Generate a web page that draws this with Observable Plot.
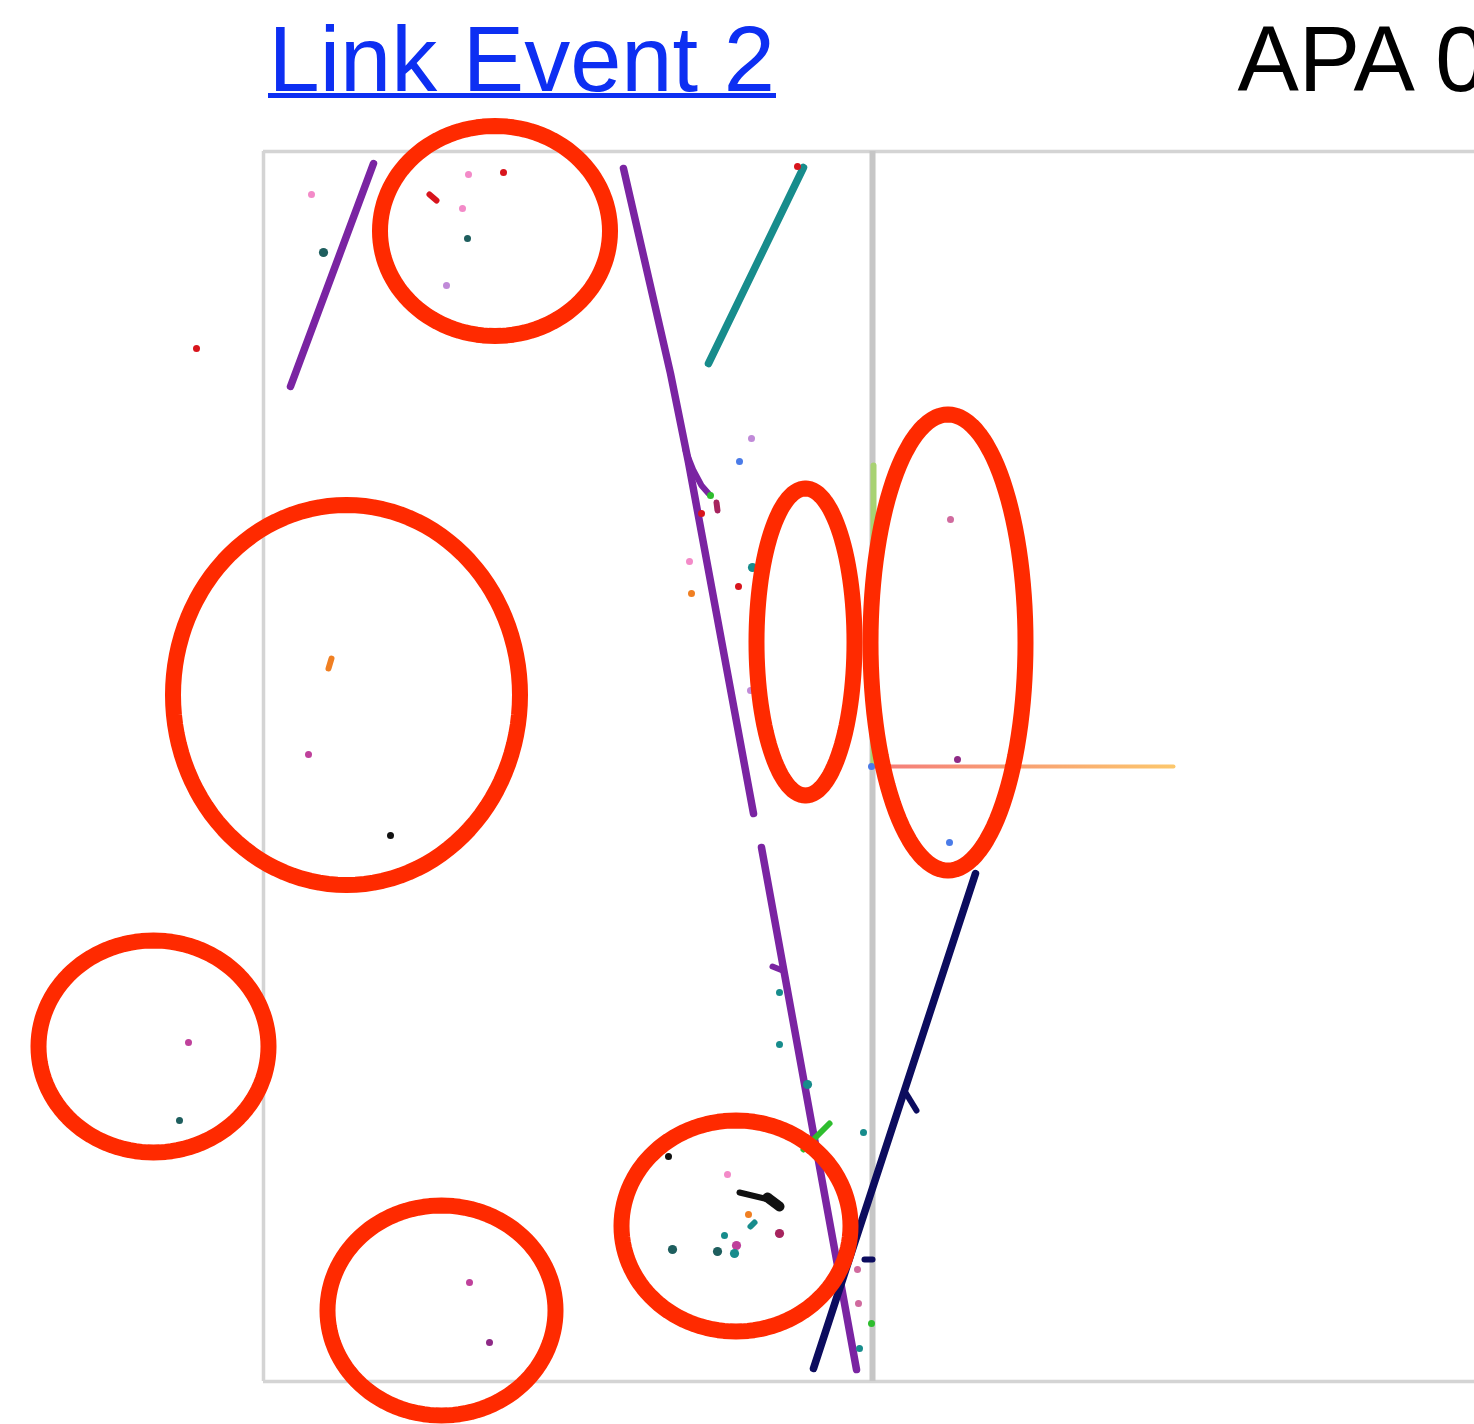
<!DOCTYPE html>
<html><head><meta charset="utf-8">
<script src="https://cdn.jsdelivr.net/npm/d3@7"></script>
<script src="https://cdn.jsdelivr.net/npm/@observablehq/plot@0.6"></script>
<style>html,body{margin:0;padding:0;background:#fff;overflow:hidden}svg{display:block}</style>
</head><body><div id="chart"></div>
<script>
// ---- data ----
const titleText = "Link Event 2";
const sideTitle = "APA 0";
const wireDomain = [0, 1474];
const tickDomain = [0, 1424];
const apaWireEdges = [263, 872, 1474];
const apaTickEdges = [151, 1381];

const hitKinds  = ["k-purple","k-teal","k-navy","k-pink","k-rose","k-red","k-darkteal","k-lilac","k-blue","k-orange","k-maroon","k-magenta","k-plum","k-black","k-green","k-lightgreen"];
const hitColors = ["#7a24a2","#178c8c","#0c0c5e","#f38ac8","#d06a9e","#d8141c","#1e5e5e","#c08ad8","#4a7be8","#f07f22","#a6245e","#bf419b","#8e2a86","#111111","#2ebd2e","#a8d272"];

// long tracks: [id, kind, points]
const tracks = [
  ["A", "k-purple", [[373,163],[290,386]]],
  ["B1","k-purple", [[623,168],[670,373],[688,462],[753,813]]],
  ["B2","k-purple", [[761,847],[807,1100],[856,1369]]],
  ["C", "k-teal",   [[803,167],[708,363]]],
  ["D", "k-navy",   [[975,873],[813,1368]]]
];
// short track pieces / blobs
const stubs = [
  ["b1","k-purple",[[685,450],[693,470],[701,485],[708,493]]],
  ["b2","k-purple",[[772,966],[782,970]]],
  ["b3","k-navy",  [[905,1092],[916,1110]]],
  ["b4","k-red",   [[429,194],[436,200]]],
  ["b5","k-orange",[[331,658],[328,668]]],
  ["b6","k-teal",  [[750,1226],[754,1222]]],
  ["b7","k-maroon",[[716,502],[717,510]]],
  ["b8","k-navy",  [[864,1259],[872,1259]]],
  ["b9","k-green", [[803,1149],[829,1123]]],
  ["b10","k-black",[[739,1192],[768,1199],[779,1205]]],
  ["b11","k-lightgreen",[[873,465],[873,763]]]
];
const arrowHead = [["h1","k-black",[[767,1197],[779,1206]]]];
// single hits: [wire, tick, kind]
const hits = [
  [311,194,"k-pink"],[468,174,"k-pink"],[503,172,"k-red"],[462,208,"k-pink"],
  [467,238,"k-darkteal"],[446,285,"k-lilac"],[196,348,"k-red"],[797,166,"k-red"],
  [751,438,"k-lilac"],[739,461,"k-blue"],[710,495,"k-green"],[701,513,"k-red"],[689,561,"k-pink"],
  [738,586,"k-red"],[691,593,"k-orange"],[750,690,"k-lilac"],
  [308,754,"k-magenta"],[390,835,"k-black"],[950,519,"k-rose"],[957,759,"k-plum"],[949,842,"k-blue"],[871,766,"k-blue"],
  [188,1042,"k-magenta"],[179,1120,"k-darkteal"],
  [779,992,"k-teal"],[779,1044,"k-teal"],[863,1132,"k-teal"],
  [668,1156,"k-black"],[727,1174,"k-pink"],[748,1214,"k-orange"],[724,1235,"k-teal"],
  [857,1269,"k-rose"],[858,1303,"k-rose"],[871,1323,"k-green"],[859,1348,"k-teal"],
  [469,1282,"k-magenta"],[489,1342,"k-plum"]
];
// larger single hits: [wire, tick, kind]
const bigHits = [
  [323,252,"k-darkteal"],[752,567,"k-teal"],[807,1084,"k-teal"],[779,1233,"k-maroon"],
  [736,1245,"k-magenta"],[672,1249,"k-darkteal"],[717,1251,"k-darkteal"],[734,1253,"k-teal"]
];
// induction-plane line (colour gradient)
const inductionLine = [[870,766],[1173,766]];
// circled regions: [centre wire, centre tick, half-width, half-height]
const circled = [
  [494.5, 230.5, 115, 105],
  [346, 694.5, 173.5, 190],
  [805, 641.5, 49, 153.5],
  [947.5, 642, 77.5, 228],
  [153, 1046, 115, 106],
  [441, 1310, 114, 105],
  [735.5, 1225.5, 114.5, 105.5]
];

// ---- build ----
const flat = list => list.flatMap(([id, kind, pts]) => pts.map(([x, y]) => ({id, kind, x, y})));
const ellipsePts = circled.flatMap(([cx, cy, rx, ry], i) =>
  d3.range(0, 120).map(k => {
    const a = k / 120 * 2 * Math.PI;
    return {id: i, x: cx + rx * Math.cos(a), y: cy + ry * Math.sin(a)};
  }));
const toRows = list => list.map(([x, y, kind]) => ({x, y, kind}));

const font = "'Liberation Sans', Arial, Helvetica, sans-serif";
const chart = Plot.plot({
  width: 1474, height: 1424,
  marginTop: 0, marginRight: 0, marginBottom: 0, marginLeft: 0,
  x: {domain: wireDomain, range: [0, 1474], axis: null},
  y: {domain: tickDomain, range: [0, 1424], axis: null},
  color: {type: "ordinal", domain: hitKinds, range: hitColors},
  style: {background: "#fff", fontFamily: font},
  marks: [
    // APA frames
    Plot.ruleY(apaTickEdges, {x1: apaWireEdges[0], x2: apaWireEdges[2], y: d => d, stroke: "#d4d4d4", strokeWidth: 3.5}),
    Plot.ruleX([apaWireEdges[0]], {y1: apaTickEdges[0], y2: apaTickEdges[1], stroke: "#d4d4d4", strokeWidth: 3.5}),
    Plot.ruleX([apaWireEdges[1]], {y1: apaTickEdges[0], y2: apaTickEdges[1], stroke: "#c6c6c6", strokeWidth: 6}),
    // tracks
    Plot.line(flat(tracks), {x: "x", y: "y", z: "id", stroke: "kind", strokeWidth: 7.5, strokeLinecap: "round", strokeLinejoin: "round"}),
    Plot.line(flat(stubs), {x: "x", y: "y", z: "id", stroke: "kind", strokeWidth: 6, strokeLinecap: "round", strokeLinejoin: "round"}),
    Plot.line(flat(arrowHead), {x: "x", y: "y", z: "id", stroke: "kind", strokeWidth: 10, strokeLinecap: "round"}),
    Plot.line(inductionLine.map(([x, y]) => ({x, y})), {x: "x", y: "y", stroke: "url(#indGrad)", strokeWidth: 4}),
    Plot.dot(toRows(hits), {x: "x", y: "y", fill: "kind", r: 3.5}),
    Plot.dot(toRows(bigHits), {x: "x", y: "y", fill: "kind", r: 4.6}),
    // circles of interest
    Plot.line(ellipsePts, {x: "x", y: "y", z: "id", curve: "linear-closed", stroke: "#ff2a00", strokeWidth: 16}),
    // titles
    Plot.text([titleText], {x: 268, y: 90, text: d => d, textAnchor: "start", lineAnchor: "bottom", fontSize: 92, fill: "#0d2ff2"}),
    Plot.ruleY([95], {x1: 268, x2: 776, stroke: "#0d2ff2", strokeWidth: 5}),
    Plot.text([sideTitle], {x: 1237, y: 90, text: d => d, textAnchor: "start", lineAnchor: "bottom", fontSize: 92, fill: "#000"})
  ]
});
// gradient definition for the induction line
const sx = chart.scale("x");
const ns = "http://www.w3.org/2000/svg";
const defs = document.createElementNS(ns, "defs");
const grad = document.createElementNS(ns, "linearGradient");
grad.setAttribute("id", "indGrad");
grad.setAttribute("gradientUnits", "userSpaceOnUse");
grad.setAttribute("x1", sx.apply(inductionLine[0][0]));
grad.setAttribute("x2", sx.apply(inductionLine[1][0]));
grad.setAttribute("y1", 0); grad.setAttribute("y2", 0);
[["0%", "#f47a7a"], ["100%", "#fcc76c"]].forEach(([o, c]) => {
  const s = document.createElementNS(ns, "stop");
  s.setAttribute("offset", o); s.setAttribute("stop-color", c);
  grad.appendChild(s);
});
defs.appendChild(grad);
chart.insertBefore(defs, chart.firstChild);
document.getElementById("chart").appendChild(chart);
</script>
</body></html>
